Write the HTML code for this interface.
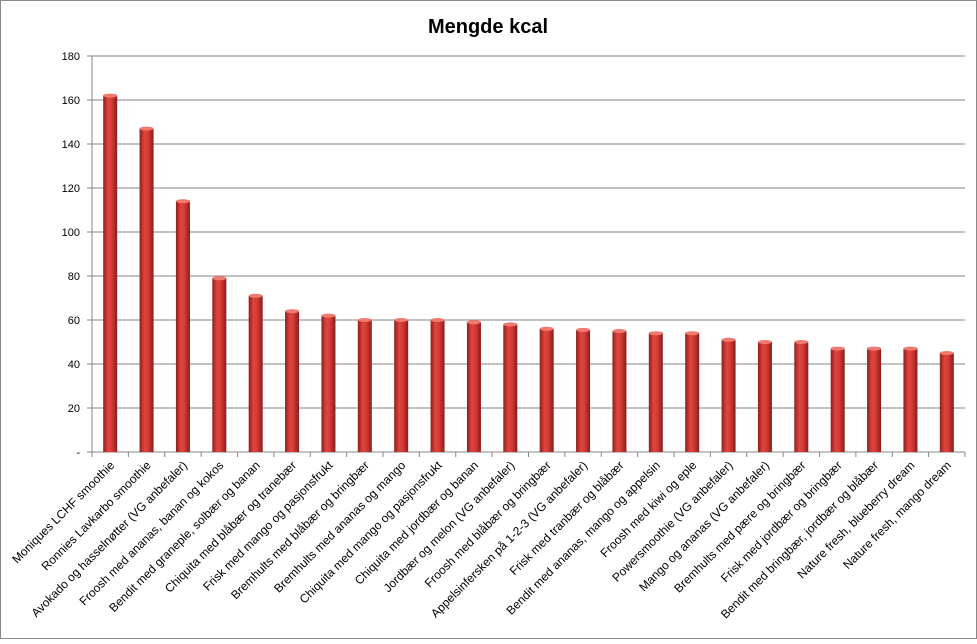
<!DOCTYPE html>
<html><head><meta charset="utf-8"><style>
body{margin:0;background:#fff;}
svg text{font-family:"Liberation Sans",sans-serif;}
</style></head><body>
<svg width="977" height="639" xmlns="http://www.w3.org/2000/svg">
<defs>
<linearGradient id="bg" x1="0" x2="1" y1="0" y2="0">
<stop offset="0" stop-color="#8e1e1c"/><stop offset="0.35" stop-color="#e0453f"/><stop offset="0.6" stop-color="#d63c37"/><stop offset="1" stop-color="#8a1c1a"/>
</linearGradient>
</defs>
<rect x="0.5" y="0.5" width="976" height="638" fill="#fff" stroke="#888"/>
<text x="488" y="33" text-anchor="middle" font-size="20" font-weight="bold">Mengde kcal</text>
<g id="grid"></g><g id="bars"></g><g id="labels"></g>
</svg>
<script>
const categories=["Moniques LCHF smoothie","Ronnies Lavkarbo smoothie","Avokado og hasselnøtter (VG anbefaler)","Froosh med ananas, banan og kokos","Bendit med graneple, solbær og banan","Chiquita med blåbær og tranebær","Frisk med mango og pasjonsfrukt","Bremhults med blåbær og bringbær","Bremhults med ananas og mango","Chiquita med mango og pasjonsfrukt","Chiquita med jordbær og banan","Jordbær og melon (VG anbefaler)","Froosh med blåbær og bringbær","Appelsinfersken på 1-2-3 (VG anbefaler)","Frisk med tranbær og blåbær","Bendit med ananas, mango og appelsin","Froosh med kiwi og eple","Powersmoothie (VG anbefaler)","Mango og ananas (VG anbefaler)","Bremhults med pære og bringbær","Frisk med jordbær og bringbær","Bendit med bringbær, jordbær og blåbær","Nature fresh, blueberry dream","Nature fresh, mango dream"];
const values=[162,147,114,79,71,64,62,60,60,60,59,58,56,55.5,55,54,54,51,50,50,47,47,47,45];
const tickValues=[0,20,40,60,80,100,120,140,160,180];
const tickLabels=["-","20","40","60","80","100","120","140","160","180"];
const NS="http://www.w3.org/2000/svg";
const X0=92,X1=965,Y0=452,Y1=56,YMAX=180;
const y=v=>Y0-(v/YMAX)*(Y0-Y1);
const bw=(X1-X0)/categories.length;
const xc=i=>X0+bw*(i+0.5);
function mk(t,a,p){const e=document.createElementNS(NS,t);for(const k in a)e.setAttribute(k,a[k]);p.appendChild(e);return e;}
const grid=document.getElementById('grid'),bars=document.getElementById('bars'),labels=document.getElementById('labels');
tickValues.forEach((v,i)=>{
 const l=mk('line',{x1:X0-5,x2:X1,y1:y(v),y2:y(v),stroke:'#868686','stroke-width':1},grid);
 
 
 const t=mk('text',{x:X0-12,y:y(v)+4,'text-anchor':'end','font-size':11},grid);
 t.textContent=tickLabels[i];
 
 
});
const ax=mk('line',{x1:X0,x2:X0,y1:Y1,y2:Y0,stroke:'#868686'},grid);


for(let i=0;i<=categories.length;i++){
 const tk=mk('line',{x1:X0+bw*i,x2:X0+bw*i,y1:Y0,y2:Y0+5,stroke:'#868686'},grid);
 
 
}
values.forEach((v,i)=>{
 const w=14,x=xc(i)-w/2;
 const r=mk('rect',{x:x,y:y(v),width:w,height:Y0-y(v),fill:'url(#bg)'},bars);
 
 
 const c=mk('ellipse',{cx:xc(i),cy:y(v),rx:w/2,ry:2,fill:'#f07a70'},bars);
 
 
 const t=mk('text',{x:xc(i)+5,y:Y0+14,'text-anchor':'end','font-size':12,transform:`rotate(-45 ${xc(i)+5} ${Y0+14})`},labels);
 t.textContent=categories[i];
 
 
});
</script>
</body></html>
